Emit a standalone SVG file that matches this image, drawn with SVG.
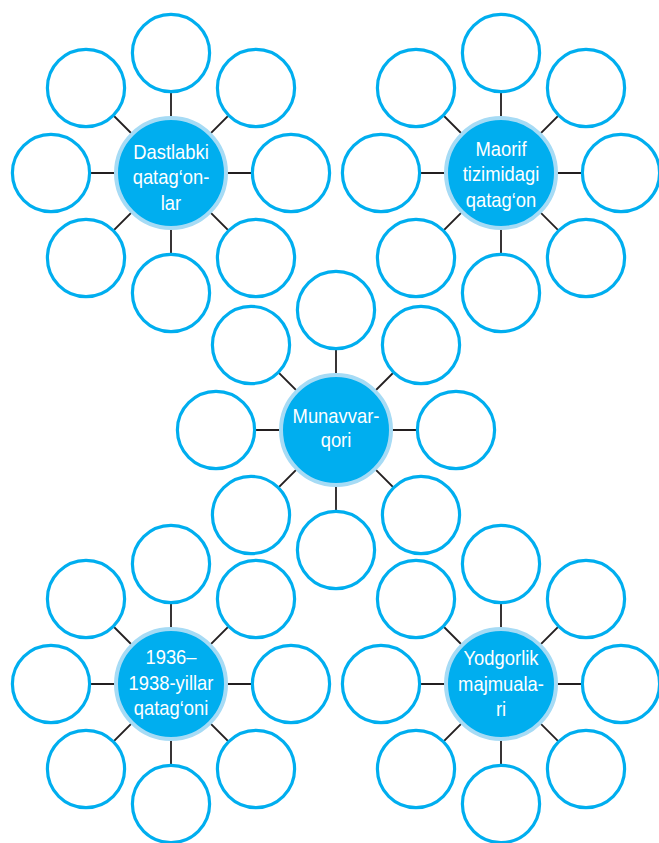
<svg xmlns="http://www.w3.org/2000/svg" width="659" height="843" viewBox="0 0 659 843">
<defs>
<style>
.ln{stroke:#231f20;stroke-width:1.8;fill:none}
.oc{fill:#fff;stroke:#00aeef;stroke-width:3.2}
.cc{fill:#00aeef;stroke:#a6dbf5;stroke-width:4}
.tx{fill:#fff;font-family:"Liberation Sans",Arial,sans-serif;font-size:20px;text-anchor:middle}
</style>
<g id="spokes">
<line class="ln" x1="0" y1="0" x2="0" y2="-160"/>
<line class="ln" x1="0" y1="0" x2="0" y2="160"/>
<line class="ln" x1="0" y1="0" x2="-160" y2="0"/>
<line class="ln" x1="0" y1="0" x2="160" y2="0"/>
<line class="ln" x1="0" y1="0" x2="113" y2="-113"/>
<line class="ln" x1="0" y1="0" x2="-113" y2="-113"/>
<line class="ln" x1="0" y1="0" x2="113" y2="113"/>
<line class="ln" x1="0" y1="0" x2="-113" y2="113"/>
</g>
<g id="ring">
<circle class="oc" cx="0" cy="-120" r="38.6"/>
<circle class="oc" cx="0" cy="120" r="38.6"/>
<circle class="oc" cx="-120" cy="0" r="38.6"/>
<circle class="oc" cx="120" cy="0" r="38.6"/>
<circle class="oc" cx="85" cy="-85" r="38.6"/>
<circle class="oc" cx="-85" cy="-85" r="38.6"/>
<circle class="oc" cx="85" cy="85" r="38.6"/>
<circle class="oc" cx="-85" cy="85" r="38.6"/>
</g>
</defs>
<rect width="659" height="843" fill="#fff"/>
<g id="connectors">
<use href="#spokes" transform="translate(171,173)"/>
<use href="#spokes" transform="translate(501,173)"/>
<use href="#spokes" transform="translate(336,430)"/>
<use href="#spokes" transform="translate(171,684)"/>
<use href="#spokes" transform="translate(501,684)"/>
</g>
<g id="cluster-dastlabki">
<use href="#ring" transform="translate(171,173)"/>
<circle class="cc" cx="171" cy="173" r="55"/>
<g transform="translate(171,0) scale(0.92,1)">
<text class="tx" x="0" y="159">Dastlabki</text>
<text class="tx" x="0" y="184.5">qatag‘on-</text>
<text class="tx" x="0" y="210">lar</text>
</g>
</g>
<g id="cluster-maorif">
<use href="#ring" transform="translate(501,173)"/>
<circle class="cc" cx="501" cy="173" r="55"/>
<g transform="translate(501,0) scale(0.92,1)">
<text class="tx" x="0" y="156">Maorif</text>
<text class="tx" x="0" y="181.5">tizimidagi</text>
<text class="tx" x="0" y="207">qatag‘on</text>
</g>
</g>
<g id="cluster-munavvar">
<use href="#ring" transform="translate(336,430)"/>
<circle class="cc" cx="336" cy="430" r="55"/>
<g transform="translate(336,0) scale(0.92,1)">
<text class="tx" x="0" y="423">Munavvar-</text>
<text class="tx" x="0" y="447">qori</text>
</g>
</g>
<g id="cluster-1936">
<use href="#ring" transform="translate(171,684)"/>
<circle class="cc" cx="171" cy="684" r="55"/>
<g transform="translate(171,0) scale(0.92,1)">
<text class="tx" x="0" y="664">1936–</text>
<text class="tx" x="0" y="690">1938-yillar</text>
<text class="tx" x="0" y="715">qatag‘oni</text>
</g>
</g>
<g id="cluster-yodgorlik">
<use href="#ring" transform="translate(501,684)"/>
<circle class="cc" cx="501" cy="684" r="55"/>
<g transform="translate(501,0) scale(0.92,1)">
<text class="tx" x="0" y="665">Yodgorlik</text>
<text class="tx" x="0" y="691">majmuala-</text>
<text class="tx" x="0" y="716">ri</text>
</g>
</g>
</svg>
